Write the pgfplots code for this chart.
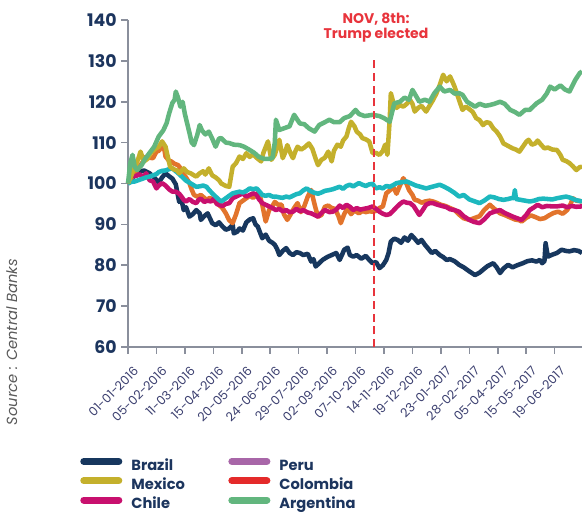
\documentclass[border=0pt]{standalone}
\usepackage{fontspec}
\setmainfont{Poppins}
\usepackage{pgfplots}
\pgfplotsset{compat=1.18}

\definecolor{brazil}{RGB}{23,55,94}
\definecolor{mexico}{RGB}{196,176,44}
\definecolor{chile}{RGB}{200,16,110}
\definecolor{peru}{RGB}{29,184,190}
\definecolor{perulgd}{RGB}{168,102,168}
\definecolor{colombia}{RGB}{226,116,44}
\definecolor{colomlgd}{RGB}{228,42,42}
\definecolor{argentina}{RGB}{98,182,126}
\definecolor{navytext}{RGB}{28,53,94}
\definecolor{slate}{RGB}{60,64,112}
\definecolor{axisgray}{RGB}{138,143,156}
\definecolor{trumpred}{RGB}{232,52,60}

\begin{document}
\begin{tikzpicture}
\path[use as bounding box] (-96pt,-124.5pt) rectangle (340.5pt,260.25pt);
\begin{axis}[
  at={(0,0)}, anchor=south west,
  scale only axis, width=340.5pt, height=245.25pt,
  xmin=0, xmax=399, ymin=60, ymax=140,
  axis x line=bottom, axis y line=left,
  axis line style={-, draw=axisgray, line width=1.5pt},
  tick align=outside, major tick length=5pt,
  tick style={draw=axisgray, line width=1.2pt},
  xtick={0,25,...,375},
  xticklabels={01-01-2016,05-02-2016,11-03-2016,15-04-2016,20-05-2016,24-06-2016,29-07-2016,02-09-2016,07-10-2016,14-11-2016,19-12-2016,23-01-2017,28-02-2017,05-04-2017,15-05-2017,19-06-2017},
  ytick={60,70,...,140},
  /pgf/number format/assume math mode=true,
  yticklabel style={font=\fontsize{13}{13}\selectfont\bfseries, text=navytext},
  xticklabel style={font=\fontsize{9.3}{9.3}\selectfont, text=slate, xshift=3.5pt, yshift=-7.3pt, rotate=45, anchor=north east, inner sep=1pt},
  clip=false,
  legend columns=2,
  legend cell align=left,
  legend style={draw=none, fill=none, at={(-0.1145,-0.3303)}, anchor=north west,
    font=\fontsize{11}{11}\selectfont\bfseries, text=navytext, row sep=2.85pt,
    nodes={inner sep=0pt, text height=8.5pt, text depth=2.5pt},
    /tikz/every odd column/.append style={column sep=6.75pt},
    /tikz/every even column/.append style={column sep=32.5pt},
    /tikz/column 3/.append style={column sep=22pt}},
  legend image code/.code={\draw[#1, line width=5.25pt, line cap=round] (2.6pt,3.5pt) -- (28.9pt,3.5pt);},
  every axis plot/.append style={line width=3.4pt, line join=round, forget plot},
]

% Brazil
\addplot[brazil] coordinates {
(0,100) (4,101.5) (10,102.8) (14,103.2) (19,102.5) (23,101.5) (27,100.2) (30,101.5) (33,102.5) (36,101.8) (39,101.2) (42,99.8) (45,95.5) (47,96) (49,93.5) (51,94.2) (54,91.9) (57,92.5) (60,93.5) (63,92.7) (64,91.1) (67,92) (70,92.7) (74,90.3) (77,89.8) (80,90.5) (83,89.5) (86,88.7) (89,89) (92,89.9) (93,87.8) (96,88.2) (98,89) (101,88.5) (104,90.5) (107,91.2) (110,91.5) (112,90) (114,89.5) (118,86.6) (121,87.5) (124,86) (127,85.5) (129,85) (131,84) (133,82.5) (136,83.5) (139,84.2) (142,83) (145,82.5) (148,83.2) (151,83) (154,82.5) (158,82.8) (161,80.9) (163,81.5) (165,79.7) (168,80.5) (171,81.3) (175,82) (179,82.5) (183,83) (186,81.3) (188,82.5) (190,83.8) (193,84.3) (195,82.5) (198,82.1) (201,82.5) (205,81.6) (209,82.3) (212,81.3) (215,80.5) (218,80.8) (221,79.3) (224,80) (227,81.3) (229,83) (231,85.8) (234,86.5) (237,86.2) (240,85.5) (243,86.8) (246,86) (249,87.4) (252,86.5) (255,85.5) (258,86.2) (261,85) (264,84) (267,83) (270,83.5) (274,82.5) (277,82) (280,81.3) (283,81.5) (287,81) (291,80.1) (295,79.5) (300,78.5) (305,77.6) (309,78.2) (312,78.9) (316,79.8) (321,80.5) (324,79.5) (327,78.1) (330,79.2) (334,80.1) (338,79.5) (342,80) (347,80.5) (351,81) (355,81.2) (359,80.9) (362,81.3) (364,80.5) (366,81) (367,85.4) (369,82.1) (373,82.6) (377,83) (381,83.8) (385,83.5) (388,83.4) (392,83.7) (396,83.5) (399,83)
};

% Colombia
\addplot[colombia] coordinates {
(0,100) (2,101) (4,101.7) (7,103) (10,104.1) (13,105.3) (16,106.6) (19,106.3) (22,106.2) (25,107.8) (27,108) (30,109) (32,108.2) (33,106.6) (36,105.6) (38,105.4) (41,104.8) (44,104.5) (46,103.8) (48,102.5) (51,101.5) (54,100.1) (56,98.5) (58,97.2) (61,96.8) (64,97.2) (67,96.5) (69,96) (72,96.5) (75,96) (78,95.2) (81,94.5) (83,94) (86,92.7) (89,91) (92,90.3) (95,92.5) (98,95.2) (101,95.8) (104,96.4) (107,97) (110,96.5) (113,97.2) (115,98) (118,94.8) (121,90.7) (124,93.5) (127,94.5) (129,95.5) (132,94.8) (135,94.8) (137,92.5) (140,91.1) (143,92.5) (146,94) (149,95.2) (152,93) (155,94.5) (158,96.8) (161,98.4) (163,96) (165,93.8) (167,91.9) (170,92.3) (173,94.3) (176,94.6) (179,94) (182,93.8) (185,92) (187,90.3) (190,92.5) (193,94) (196,92.5) (199,93.4) (203,92.7) (206,93.3) (209,93) (212,93.2) (215,93.1) (218,93.3) (221,94) (224,94.4) (227,97.6) (230,98.3) (233,99.2) (236,97.5) (239,99.5) (242,101.3) (245,99.8) (247,98.4) (250,97.2) (252,96) (255,95.8) (258,95.3) (261,95.6) (265,95.8) (268,95.6) (271,95.3) (275,94.8) (279,94.5) (283,94) (287,93.5) (291,92.4) (295,91.5) (300,91.1) (304,91.5) (309,92) (313,93.5) (318,94.8) (322,93.8) (327,92.7) (331,92.3) (335,91.8) (340,91.2) (344,91) (346,90.7) (350,91.6) (354,92.2) (358,91.8) (362,91.3) (366,91.5) (370,92.2) (374,92.8) (378,93.1) (382,92.6) (386,93.5) (389,95) (391,96.4) (394,95.8) (397,95.7) (399,95.6)
};

% Chile
\addplot[chile] coordinates {
(0,100) (2,101.5) (4,102) (7,101.8) (10,102.3) (13,101.5) (16,102.5) (19,100.8) (22,100.5) (25,98.8) (27,99.5) (30,100.1) (33,99.5) (36,98.6) (39,98) (42,98) (45,97.5) (47,96.8) (49,96) (51,95.6) (54,96.2) (57,95.5) (60,95.2) (62,96) (64,96.3) (67,95.5) (70,95.8) (73,95.6) (76,96.4) (78,95) (80,94.8) (83,94.5) (86,95) (89,95.2) (92,96.4) (95,96.8) (98,97.2) (101,97.6) (104,96.8) (107,97.2) (110,97.6) (113,97.3) (115,96.2) (118,95.2) (121,94.8) (124,94.4) (127,94) (130,93.5) (133,93.8) (136,93.2) (139,93.5) (142,93) (145,93.1) (148,93.8) (151,93.2) (154,93.5) (158,92.9) (161,92.7) (164,92.3) (167,91.9) (170,92.8) (173,93.5) (177,93) (180,93.1) (183,93.6) (186,94.6) (189,94) (192,94.8) (195,94.3) (198,93.5) (201,94) (204,93.6) (207,93.8) (211,94) (215,94.4) (218,93.8) (221,93.1) (224,92.6) (227,92.3) (230,92.5) (233,93.3) (236,94.2) (239,95) (242,95.6) (245,95.3) (248,95.2) (251,94.5) (254,93.2) (256,92.3) (259,93.5) (262,94.8) (265,95.2) (268,95.2) (272,94.8) (276,94.5) (280,94.2) (283,93.7) (287,93.5) (291,93.1) (295,92) (300,91.1) (304,90.6) (309,90.3) (313,91.2) (318,92.7) (322,93.1) (327,93.5) (331,92.8) (335,92.3) (339,91.8) (344,91.3) (346,91.1) (350,92.3) (353,93.5) (357,94.2) (360,94.8) (364,94.2) (368,94.5) (373,94.4) (377,94.4) (382,94.6) (386,94.2) (390,94.5) (394,94.3) (399,94.4)
};

% Peru
\addplot[peru] coordinates {
(0,100) (3,100.4) (6,100.5) (10,100.9) (13,101.2) (16,101.5) (19,101.7) (22,102) (25,102.3) (27,102.8) (30,103.1) (33,103.2) (36,103.5) (39,103.7) (42,103) (45,102.3) (48,101.5) (51,100.7) (54,100.2) (57,99.7) (60,99.2) (63,99.3) (66,99.5) (69,99.2) (71,98.5) (74,97.6) (77,96.8) (80,96) (82,95.6) (85,96.2) (88,96.8) (92,97.6) (95,97.8) (98,98) (101,97.8) (104,98.2) (107,98.8) (110,98.6) (113,98.8) (115,98.2) (118,97.2) (121,97) (124,97.2) (127,96.8) (130,96.8) (133,96.6) (136,96.5) (139,96.8) (142,96.6) (145,97) (148,97.4) (151,97.6) (154,98.3) (157,98.8) (160,98.2) (163,97.8) (167,97.5) (170,97.8) (173,98.2) (177,98.4) (180,98.6) (183,98.9) (186,99.2) (189,98.7) (192,99.4) (195,99.7) (198,99.3) (201,99.8) (203,100.1) (206,99.7) (209,99.4) (212,99.8) (215,99.9) (218,98.8) (221,99.1) (224,98.8) (227,99.4) (230,99.2) (233,99.6) (236,100.1) (240,100.3) (245,100.5) (249,100) (253,99.5) (257,99.2) (262,98.8) (266,99.1) (270,99.4) (274,99.7) (278,99.2) (282,98.6) (287,97.7) (291,96.8) (295,97.2) (300,96.1) (305,95.6) (309,95.2) (313,95.8) (318,96.8) (322,96.6) (326,96.2) (330,96) (334,96.2) (338,96.5) (339,96.4) (340,98.4) (341,96.2) (345,96) (349,95.8) (353,95.6) (357,95.8) (361,96.2) (365,96.3) (369,96.2) (373,96.1) (377,96.4) (381,96.6) (385,96.8) (389,96.5) (393,96) (396,95.8) (399,95.6)
};

% Mexico
\addplot[mexico] coordinates {
(0,100) (3,102) (6,104) (9,106) (11,107.8) (14,105.4) (17,106) (20,107.5) (24,108.5) (27,109) (30,110.3) (33,109) (35,106.5) (37,104.1) (40,103.5) (43,103.2) (45,102.5) (49,103.7) (52,102.8) (55,102.5) (58,102) (60,101.7) (63,102.5) (66,103) (68,102.2) (71,103.7) (74,102) (77,101.5) (80,100.8) (82,100) (86,99.4) (89,99.2) (92,104.1) (95,105) (98,106.6) (101,106) (104,107.4) (107,106.5) (110,107.2) (113,106.3) (117,105.4) (119,107.5) (123,110.3) (126,105.8) (129,107) (133,110.7) (136,106.2) (138,107.5) (140,109.4) (143,107.3) (145,106.2) (147,107.8) (149,109) (152,108.3) (155,108.8) (159,109.8) (162,108.5) (165,106) (167,104.5) (170,105.8) (173,106.3) (176,107.8) (179,105.4) (181,108) (184,109.5) (187,109) (189,110.5) (192,111.5) (194,113.5) (196,115.1) (199,114) (201,112.7) (204,112) (206,111.1) (209,110.8) (212,110.3) (215,107.4) (218,107.5) (221,107) (224,108) (226,109.5) (228,107) (230,115.6) (231,122.1) (233,120) (236,118.5) (239,119.2) (242,118.8) (245,119.5) (248,120.4) (250,119.5) (252,117.6) (255,118.5) (258,119) (262,117.6) (265,119) (268,120.4) (271,122) (274,124.1) (277,126.6) (280,125) (283,126.2) (285,125) (287,123.7) (291,120.4) (294,118) (297,118.8) (300,118.2) (303,117.5) (306,116) (309,115.5) (312,114.3) (315,115) (318,114.8) (321,113.5) (324,112.7) (327,111.5) (330,109.8) (334,109.2) (338,108.6) (341,108.3) (344,107.8) (347,109) (350,110.2) (352,110.7) (355,109.5) (358,109.8) (360,110.5) (363,109.5) (366,108.6) (369,108.8) (373,108.3) (377,108.2) (380,107) (382,105.8) (385,105.5) (388,105) (391,104.2) (394,103.3) (397,104) (399,104.1)
};

% Argentina
\addplot[argentina] coordinates {
(0,100) (2,105) (4,107) (6,104) (8,103.3) (12,104.5) (15,106) (19,107.5) (23,109) (27,111.5) (31,113) (34,114.8) (36,117) (39,119.7) (41,120.5) (42,122.5) (44,121) (46,118.8) (48,120) (50,117) (54,112.4) (56,110) (58,109.4) (61,112) (63,114.3) (65,113) (68,112) (71,112.7) (74,111) (77,109) (80,111) (82,111.1) (86,110) (89,109.9) (93,109.5) (98,109.4) (102,109) (107,108.2) (111,107.5) (115,106.5) (120,106) (124,106) (127,106.3) (129,110) (130,115.6) (133,113.1) (137,113.5) (142,114) (146,116.8) (151,114.7) (155,114.5) (159,113.5) (164,112.7) (168,114.3) (173,115) (177,115.6) (181,115) (186,115) (190,116) (195,116.5) (200,118) (203,117) (208,116.5) (215,116.8) (221,116.5) (225,116) (230,115.1) (234,119.6) (239,120) (243,121) (247,120.5) (250,122.9) (254,121) (256,120) (261,120.5) (265,120) (269,122) (274,123.7) (278,122.5) (283,122.9) (287,122) (291,122.1) (294,121.7) (298,120) (305,118.8) (309,119.5) (314,119) (318,119.2) (322,119.5) (327,120) (331,119.5) (336,118) (340,117.5) (344,116.8) (349,118) (353,118) (359,119.6) (364,120.5) (368,122) (371,123.7) (375,123) (380,124) (384,123) (388,122.5) (393,125.3) (397,127) (399,127.4)
};

\addlegendimage{brazil}\addlegendentry{Brazil}
\addlegendimage{perulgd}\addlegendentry{Peru}
\addlegendimage{mexico}\addlegendentry{Mexico}
\addlegendimage{colomlgd}\addlegendentry{Colombia}
\addlegendimage{chile}\addlegendentry{Chile}
\addlegendimage{argentina}\addlegendentry{Argentina}

\draw[trumpred, line width=1.5pt, dash pattern=on 6pt off 3.5pt] (axis cs:216,60) -- (axis cs:216,131);
\node[font=\fontsize{10.5}{11.2}\selectfont\bfseries, text=trumpred, align=center, yshift=-5.5pt] at (axis cs:218,140) {NOV, 8th:\\Trump elected};
\node[rotate=90, font=\fontsize{11}{11}\selectfont\itshape, text=black!65] at (axis description cs:-0.256,0.0153) {Source : Central Banks};
\end{axis}
\end{tikzpicture}
\end{document}
